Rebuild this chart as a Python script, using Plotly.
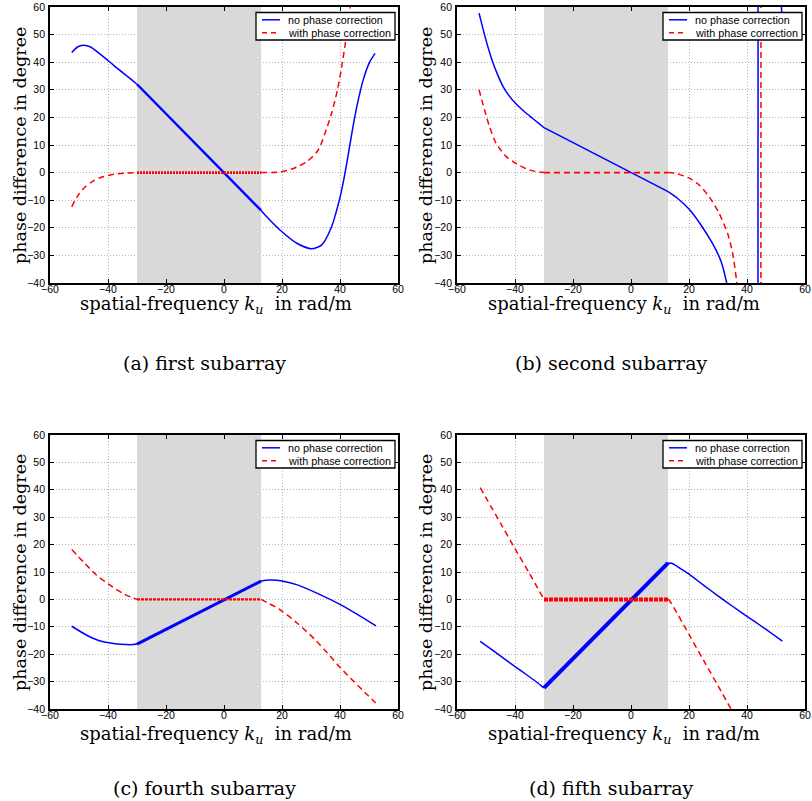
import plotly.graph_objects as go

# ---------------------------------------------------------------- data
BAND = (-30.0, 12.8)            # spatial-frequency band of the subarray (shaded)
K_RANGE = [-60, 60]
PHASE_RANGE = [-40, 60]
X_TICKS = [-60, -40, -20, 0, 20, 40, 60]
Y_TICKS = [-40, -30, -20, -10, 0, 10, 20, 30, 40, 50, 60]

CAPTIONS = ["(a) first subarray", "(b) second subarray",
            "(c) fourth subarray", "(d) fifth subarray"]
LEGEND_LABELS = ["no phase correction", "with phase correction"]
X_TITLE = "spatial-frequency <i>k<sub>u</sub></i>  in rad/m"
Y_TITLE = "phase difference in degree"

# (a) first subarray
a_k_plain = [-52.5, -50.5, -48.5, -46.0, -44.0, -40.0, -36.0, -33.0, -30.0, 0.0, 12.8,
             15.0, 19.3, 25.1, 30.2, 33.7, 37.1, 39.8, 41.0, 42.2, 43.4, 44.6, 45.8, 48.0, 50.3, 52.1]
a_v_plain = [43.5, 45.5, 46.1, 45.5, 44.0, 40.6, 37.1, 34.6, 32.0, 0.0, -13.7,
             -16.3, -20.8, -25.6, -27.6, -26.2, -19.6, -9.9, -4.2, 2.6, 10.0, 17.3, 23.9, 33.6, 40.2, 43.2]
a_k_corr = [-52.5, -50.5, -48.0, -45.0, -42.0, -38.0, -34.0, -30.0, 12.8,
            19.3, 23.9, 28.5, 32.5, 34.8, 37.1, 39.1, 40.6, 42.0, 43.4, 44.5]
a_v_corr = [-12.4, -8.5, -5.3, -3.0, -1.6, -0.6, -0.2, 0.0, 0.0,
            0.2, 1.5, 3.9, 8.2, 14.2, 21.5, 29.9, 38.4, 48.0, 58.9, 68.0]

# (b) second subarray (phase wraps at +-180 degree)
b_k_plain = [-52.4, -50.0, -48.0, -46.0, -44.0, -42.0, -40.0, -37.0, -34.0, -30.0, 0.0, 12.8,
             16.0, 20.0, 24.0, 28.0, 31.0, 33.0, 35.5, 38.0, 41.0, 43.75, 43.85, 46.5, 49.5, 51.85, 52.3]
b_v_plain = [57.8, 48.0, 41.0, 35.5, 31.0, 27.8, 25.3, 22.3, 19.7, 16.3, 0.0, -6.9,
             -9.3, -13.2, -18.8, -25.5, -32.0, -40.0, -55.0, -80.0, -125.0, -179.5, -180.5, -220.0, -262.0, -300.0, -307.0]
b_k_corr = [-52.4, -50.5, -48.8, -46.5, -43.0, -39.6, -35.0, -30.0, 12.8,
            15.5, 20.1, 23.5, 27.0, 30.4, 33.3, 35.0, 36.5, 38.5, 41.5, 44.75, 44.85, 48.0, 52.3]
b_v_corr = [30.0, 22.7, 16.7, 10.6, 5.8, 3.3, 0.9, 0.0, 0.0,
            -0.3, -2.0, -4.5, -8.8, -14.8, -22.0, -29.0, -40.0, -62.0, -110.0, -179.5, -180.5, -220.0, -275.0]

# (c) fourth subarray
c_k_plain = [-52.5, -47.3, -42.7, -38.1, -33.5, -31.5, -30.0, 0.0, 12.8,
             14.5, 16.5, 20.0, 25.3, 32.2, 40.3, 46.0, 52.4]
c_v_plain = [-9.8, -13.1, -15.2, -16.1, -16.5, -16.5, -16.3, 0.0, 6.7,
             7.0, 7.1, 6.7, 5.3, 2.2, -2.0, -5.5, -9.7]
c_k_corr = [-52.5, -48.5, -43.9, -39.3, -34.7, -31.5, -30.0, 12.8,
            15.0, 19.5, 25.3, 31.3, 35.6, 40.2, 44.8, 49.4, 52.3]
c_v_corr = [18.2, 13.7, 8.8, 5.2, 2.1, 0.6, 0.0, 0.0,
            -1.2, -3.9, -8.7, -14.6, -19.5, -25.0, -30.0, -34.8, -37.8]

# (d) fifth subarray
d_k_plain = [-52.0, -48.0, -44.0, -40.0, -36.0, -32.0, -30.5, -30.0, 0.0, 12.8,
             14.0, 16.0, 20.0, 25.0, 30.0, 35.0, 40.0, 45.0, 52.2]
d_v_plain = [-15.3, -18.3, -21.4, -24.5, -27.5, -30.6, -31.9, -32.3, 0.0, 13.3,
             13.2, 12.0, 9.2, 5.2, 1.3, -2.5, -6.2, -9.8, -15.2]
d_k_corr = [-52.0, -45.0, -40.0, -35.0, -30.0, 12.8,
            13.2, 20.0, 25.0, 30.0, 35.0, 52.2]
d_v_corr = [40.8, 27.8, 18.5, 9.4, 0.0, 0.0,
            -0.3, -12.8, -22.2, -31.5, -41.0, -74.0]

PANELS = [
    (a_k_plain, a_v_plain, a_k_corr, a_v_corr),
    (b_k_plain, b_v_plain, b_k_corr, b_v_corr),
    (c_k_plain, c_v_plain, c_k_corr, c_v_corr),
    (d_k_plain, d_v_plain, d_k_corr, d_v_corr),
]

# ---------------------------------------------------------------- style
W, H = 812, 801
BLUE, RED = "#0000ff", "#ff0000"
BAND_FILL = "#d9d9d9"
SANS = "Liberation Sans, Arial, sans-serif"
SERIF = "DejaVu Serif, serif"
DASH = "6px,4px"

# plot boxes in pixels: (left, right, top, bottom)
BOXES = [(50, 398, 7, 283), (457, 805, 7, 283),
         (50, 398, 435, 709), (457, 805, 435, 709)]
# in-band line widths / dash patterns per panel (dense sampling looks heavier)
IN_BAND = [
    dict(bw=2.4, rw=2.6, rdash="2px,1px"),
    dict(bw=1.6, rw=1.6, rdash=DASH),
    dict(bw=3.0, rw=2.4, rdash="3px,1px"),
    dict(bw=4.0, rw=4.0, rdash="4px,1px"),
]
Y_TITLE_X = [20, 426, 20, 426]
X_TITLE_POS = [(216, 305), (624, 305), (216, 735), (624, 735)]
CAPTION_POS = [(204, 363), (611, 363), (204, 788), (611, 788)]


def px_x(p):
    return p / W


def px_y(p):
    return 1 - p / H


def wrap_deg(v):
    return (v + 180.0) % 360.0 - 180.0


def split_band(ks, vs):
    lo, hi = BAND
    pts = list(zip(ks, [wrap_deg(v) for v in vs]))
    left = [p for p in pts if p[0] <= lo]
    mid = [p for p in pts if lo <= p[0] <= hi]
    right = [p for p in pts if p[0] >= hi]
    return left, mid, right


def split_wraps(pts):
    runs, jumps = [[pts[0]]], []
    for p, q in zip(pts, pts[1:]):
        if abs(q[1] - p[1]) > 180:
            jumps.append([p, q])
            runs.append([q])
        else:
            runs[-1].append(q)
    return runs, jumps


fig = go.Figure()
shapes, annotations = [], []

for i, (kp, vp, kc, vc) in enumerate(PANELS):
    n = "" if i == 0 else str(i + 1)
    xa, ya = "x" + n, "y" + n
    l, r, t, b = BOXES[i]
    st = IN_BAND[i]

    # shaded band (drawn as the first trace so it sits over the grid)
    lo, hi = BAND
    y0, y1 = PHASE_RANGE
    fig.add_trace(go.Scatter(
        x=[lo, hi, hi, lo, lo], y=[y0, y0, y1, y1, y0], mode="lines",
        fill="toself", fillcolor=BAND_FILL, line=dict(width=0, color=BAND_FILL),
        xaxis=xa, yaxis=ya, showlegend=False, hoverinfo="skip"))

    for ks, vs, color, dash, w_in, dash_in in [
        (kp, vp, BLUE, "solid", st["bw"], "solid"),
        (kc, vc, RED, DASH, st["rw"], st["rdash"]),
    ]:
        left, mid, right = split_band(ks, vs)
        for seg in (left, right):
            runs, jumps = split_wraps(seg)
            for run in runs:
                if len(run) < 2:
                    continue
                fig.add_trace(go.Scatter(
                    x=[p[0] for p in run], y=[p[1] for p in run], mode="lines",
                    line=dict(color=color, width=1.5, dash=dash,
                              shape="spline", smoothing=0.7),
                    xaxis=xa, yaxis=ya, showlegend=False, hoverinfo="skip"))
            for jp in jumps:
                fig.add_trace(go.Scatter(
                    x=[p[0] for p in jp], y=[p[1] for p in jp], mode="lines",
                    line=dict(color=color, width=1.5, dash=dash),
                    xaxis=xa, yaxis=ya, showlegend=False, hoverinfo="skip"))
        fig.add_trace(go.Scatter(
            x=[p[0] for p in mid], y=[p[1] for p in mid], mode="lines",
            line=dict(color=color, width=w_in, dash=dash_in),
            xaxis=xa, yaxis=ya, showlegend=False, hoverinfo="skip"))

    axis_common = dict(
        showline=True, linecolor="black", linewidth=1.8, mirror="ticks",
        ticks="inside", ticklen=4, tickwidth=1, tickcolor="black",
        showgrid=True, gridcolor="#b4b4b4", gridwidth=1, griddash="1px,2px",
        zeroline=False, automargin=False,
        tickfont=dict(family=SANS, size=10.5, color="black"),
    )
    fig.layout["xaxis" + n] = dict(
        axis_common, domain=[px_x(l), px_x(r)], range=K_RANGE,
        tickvals=X_TICKS, anchor=ya, ticklabelstandoff=-5)
    fig.layout["yaxis" + n] = dict(
        axis_common, domain=[px_y(b), px_y(t)], range=PHASE_RANGE,
        tickvals=Y_TICKS, anchor=xa, ticklabelstandoff=1)

    # legend box
    pw, ph = r - l, b - t
    bx0, bx1 = pw - 142, pw - 3
    by0, by1 = 5.5, 33
    dx = lambda p, pw=pw: p / pw
    dy = lambda p, ph=ph: 1 - p / ph
    shapes.append(dict(type="rect", xref=xa + " domain", yref=ya + " domain",
                       x0=dx(bx0), x1=dx(bx1), y0=dy(by1), y1=dy(by0),
                       fillcolor="white", line=dict(color="black", width=1.3),
                       layer="above"))
    for row, (label, color, dash) in enumerate(
            [(LEGEND_LABELS[0], BLUE, "solid"), (LEGEND_LABELS[1], RED, "5px,4px")]):
        yc = by0 + 7.3 + row * 13
        shapes.append(dict(type="line", xref=xa + " domain", yref=ya + " domain",
                           x0=dx(bx0 + 6), x1=dx(bx0 + 24), y0=dy(yc), y1=dy(yc),
                           line=dict(color=color, width=1.5, dash=dash), layer="above"))
        annotations.append(dict(
            text=label, xref=xa + " domain", yref=ya + " domain",
            x=dx(bx0 + 30), y=dy(yc), xanchor="left", yanchor="middle",
            showarrow=False, font=dict(family=SANS, size=10.8, color="black")))

    # axis titles and caption
    annotations.append(dict(
        text=Y_TITLE, xref="paper", yref="paper", x=px_x(Y_TITLE_X[i]),
        y=px_y((t + b) / 2 + 1), textangle=-90, xanchor="center", yanchor="middle",
        showarrow=False, font=dict(family=SERIF, size=17.5, color="black")))
    annotations.append(dict(
        text=X_TITLE, xref="paper", yref="paper", x=px_x(X_TITLE_POS[i][0]),
        y=px_y(X_TITLE_POS[i][1]), xanchor="center", yanchor="middle",
        showarrow=False, font=dict(family=SERIF, size=18, color="black")))
    annotations.append(dict(
        text=CAPTIONS[i], xref="paper", yref="paper", x=px_x(CAPTION_POS[i][0]),
        y=px_y(CAPTION_POS[i][1]), xanchor="center", yanchor="middle",
        showarrow=False, font=dict(family=SERIF, size=19, color="black")))

fig.update_layout(
    width=W, height=H, margin=dict(l=0, r=0, t=0, b=0, autoexpand=False),
    paper_bgcolor="white", plot_bgcolor="white",
    shapes=shapes, annotations=annotations, showlegend=False,
)

fig.write_html("out.html")
